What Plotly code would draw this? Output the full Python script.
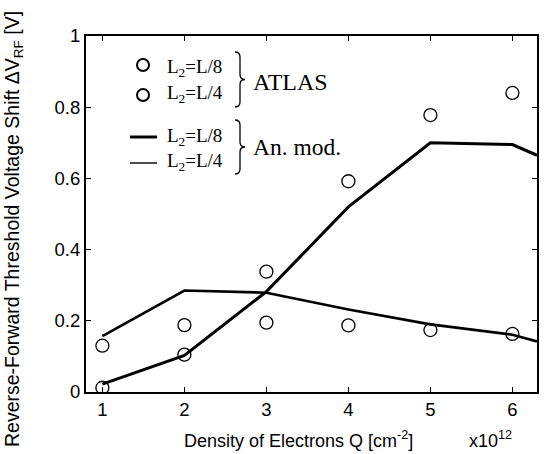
import plotly.graph_objects as go

# ---- data ----
q = [1, 2, 3, 4, 5, 6]
atlas_l8 = [0.012, 0.105, 0.338, 0.592, 0.778, 0.840]
atlas_l4 = [0.130, 0.188, 0.195, 0.187, 0.174, 0.163]
model_q = [1, 2, 3, 4, 5, 6, 6.3]
model_l8 = [0.022, 0.103, 0.282, 0.52, 0.700, 0.695, 0.665]
model_l4 = [0.157, 0.285, 0.279, 0.232, 0.190, 0.161, 0.142]
x_ticks = [1, 2, 3, 4, 5, 6]
y_ticks = [0, 0.2, 0.4, 0.6, 0.8, 1]
y_ticklabels = ["0", "0.2", "0.4", "0.6", "0.8", "1"]

W, H = 557, 454
L, R, T, B = 86, 20, 36, 62
PW, PH = W - L - R, H - T - B

def px(x):
    return (x - L) / PW

def py(y):
    return (T + PH - y) / PH

SANS = "Liberation Sans, Arial, sans-serif"
SERIF = "Liberation Serif, Times New Roman, serif"

fig = go.Figure()
fig.add_trace(go.Scatter(x=model_q, y=model_l8, mode="lines",
                         line=dict(color="black", width=3), showlegend=False))
fig.add_trace(go.Scatter(x=model_q, y=model_l4, mode="lines",
                         line=dict(color="black", width=2.6), showlegend=False))
for ys in (atlas_l8, atlas_l4):
    fig.add_trace(go.Scatter(x=q, y=ys, mode="markers",
                             marker=dict(symbol="circle-open", size=13,
                                         color="black", line=dict(width=1.3)),
                             showlegend=False))

shapes = []
annotations = []

# legend circles
for cy in (65, 95):
    shapes.append(dict(type="circle", xref="paper", yref="paper",
                       x0=px(137), x1=px(149), y0=py(cy - 6), y1=py(cy + 6),
                       line=dict(color="black", width=2)))
# legend lines
shapes.append(dict(type="line", xref="paper", yref="paper",
                   x0=px(130), x1=px(157), y0=py(137), y1=py(137),
                   line=dict(color="black", width=3)))
shapes.append(dict(type="line", xref="paper", yref="paper",
                   x0=px(130), x1=px(157), y0=py(163), y1=py(163),
                   line=dict(color="black", width=1.4)))

def brace(x0, ytop, ybot):
    ym = (ytop + ybot) / 2
    xm = x0 + 5
    xt = x0 + 10
    pts = [
        f"M {px(x0)},{py(ytop)}",
        f"Q {px(xm)},{py(ytop)} {px(xm)},{py(ytop + 5)}",
        f"L {px(xm)},{py(ym - 5)}",
        f"Q {px(xm)},{py(ym)} {px(xt)},{py(ym)}",
        f"Q {px(xm)},{py(ym)} {px(xm)},{py(ym + 5)}",
        f"L {px(xm)},{py(ybot - 5)}",
        f"Q {px(xm)},{py(ybot)} {px(x0)},{py(ybot)}",
    ]
    return dict(type="path", xref="paper", yref="paper", path=" ".join(pts),
                line=dict(color="black", width=1.3))

shapes.append(brace(235, 52, 107))
shapes.append(brace(235, 120, 174))

def txt(x, y, s, size, font=SERIF, xanchor="left"):
    annotations.append(dict(x=px(x), y=py(y), xref="paper", yref="paper",
                            text=s, showarrow=False, xanchor=xanchor,
                            yanchor="middle",
                            font=dict(family=font, size=size, color="black")))

txt(165, 68, "L<sub>2</sub>=L/8", 19)
txt(165, 94, "L<sub>2</sub>=L/4", 19)
txt(251, 82, "ATLAS", 24)
txt(165, 137, "L<sub>2</sub>=L/8", 19)
txt(165, 162, "L<sub>2</sub>=L/4", 19)
txt(251, 147, "An. mod.", 23.5)

# axis titles
txt(298, 440, "Density of Electrons Q [cm<sup>-2</sup>]", 18, SANS, "center")
txt(490, 440, "x10<sup>12</sup>", 18, SANS, "center")
annotations.append(dict(x=px(13), y=py(229), xref="paper", yref="paper",
                        text="Reverse-Forward Threshold Voltage Shift ΔV<sub>RF</sub> [V]",
                        showarrow=False, textangle=-90, xanchor="center",
                        yanchor="middle",
                        font=dict(family=SANS, size=19.5, color="black")))

axis_common = dict(showline=True, linecolor="black", linewidth=2, mirror="ticks",
                   ticks="inside", ticklen=5, tickwidth=1, tickcolor="black",
                   showgrid=False, zeroline=False,
                   tickfont=dict(family=SANS, size=18.5, color="black"))

fig.update_layout(
    width=W, height=H,
    margin=dict(l=L, r=R, t=T, b=B),
    paper_bgcolor="white", plot_bgcolor="white",
    xaxis=dict(range=[0.8, 6.3], tickvals=x_ticks, ticktext=[str(v) for v in x_ticks],
               **axis_common),
    yaxis=dict(range=[0, 1], tickvals=y_ticks, ticktext=y_ticklabels, **axis_common),
    shapes=shapes, annotations=annotations, showlegend=False,
)

fig.write_html("out.html")
